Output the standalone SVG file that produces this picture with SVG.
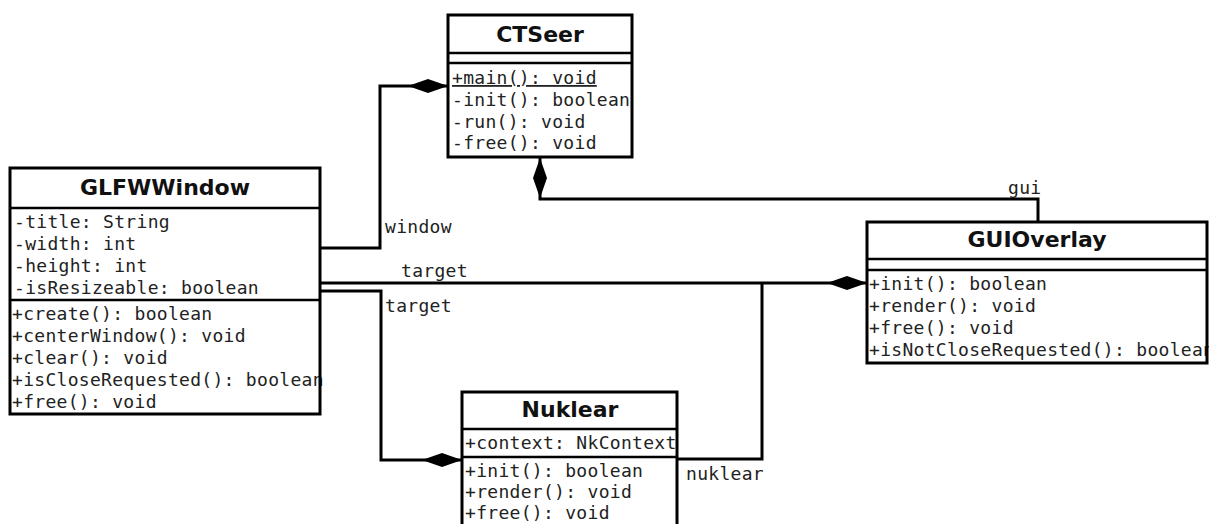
<svg xmlns="http://www.w3.org/2000/svg" width="1209" height="524" viewBox="0 0 1209 524">
  <style>
    .bg { fill: #fff; }
    .frame { fill: none; stroke: #000; stroke-width: 3; }
    .sep { stroke: #000; stroke-width: 2.5; fill: none; }
    .title { font-family: "DejaVu Sans", "Liberation Sans", sans-serif; font-weight: bold; font-size: 22px; text-anchor: middle; fill: #111; }
    .mem { font-family: "DejaVu Sans Mono", "Liberation Mono", monospace; font-size: 18px; letter-spacing: 0.3px; fill: #222; }
    .lbl { font-family: "DejaVu Sans Mono", "Liberation Mono", monospace; font-size: 18px; letter-spacing: 0.3px; fill: #222; }
    .edge { stroke: #000; stroke-width: 3; fill: none; }
  </style>
  <defs>
    <marker id="composition" viewBox="0 -8 42 16" markerWidth="42" markerHeight="16" refX="41" refY="0" orient="auto" markerUnits="userSpaceOnUse">
      <path d="M1,0 L21,-7 L41,0 L21,7 Z" fill="#000"/>
    </marker>
  </defs>

  <!-- associations -->
  <g id="connectors">
    <path class="edge" d="M320,248 H380 V86 H448" marker-end="url(#composition)"/>
    <path class="edge" d="M320,283 H867" stroke-width="2.5" marker-end="url(#composition)"/>
    <path class="edge" d="M320,291 H381 V460 H462" marker-end="url(#composition)"/>
    <path class="edge" d="M1038,222 V199 H540 V158" marker-end="url(#composition)"/>
    <path class="edge" d="M677,459 H762 V284"/>
    <text class="lbl" x="385" y="233">window</text>
    <text class="lbl" x="401" y="277">target</text>
    <text class="lbl" x="385" y="312">target</text>
    <text class="lbl" x="1008" y="194">gui</text>
    <text class="lbl" x="686" y="480">nuklear</text>
  </g>

  <!-- each class: background, members, then frame on top so long lines tuck under the border -->
  <g id="CTSeer">
    <rect class="bg" x="448" y="15" width="184" height="142"/>
    <text class="title" x="540" y="42">CTSeer</text>
    <text class="mem" x="452" y="84" text-decoration="underline">+main(): void</text>
    <text class="mem" x="452" y="106">-init(): boolean</text>
    <text class="mem" x="452" y="128">-run(): void</text>
    <text class="mem" x="452" y="149">-free(): void</text>
    <line class="sep" x1="448" y1="53" x2="632" y2="53"/>
    <line class="sep" x1="448" y1="63" x2="632" y2="63"/>
    <rect class="frame" x="448" y="15" width="184" height="142"/>
  </g>

  <g id="GLFWWindow">
    <rect class="bg" x="10" y="168" width="310" height="246"/>
    <text class="title" x="165" y="195">GLFWWindow</text>
    <text class="mem" x="14" y="228">-title: String</text>
    <text class="mem" x="14" y="250">-width: int</text>
    <text class="mem" x="14" y="272">-height: int</text>
    <text class="mem" x="14" y="294">-isResizeable: boolean</text>
    <text class="mem" x="12" y="320">+create(): boolean</text>
    <text class="mem" x="12" y="342">+centerWindow(): void</text>
    <text class="mem" x="12" y="364">+clear(): void</text>
    <text class="mem" x="12" y="386">+isCloseRequested(): boolean</text>
    <text class="mem" x="12" y="408">+free(): void</text>
    <line class="sep" x1="10" y1="208" x2="320" y2="208"/>
    <line class="sep" x1="10" y1="300" x2="320" y2="300"/>
    <rect class="frame" x="10" y="168" width="310" height="246"/>
  </g>

  <g id="GUIOverlay">
    <rect class="bg" x="867" y="222" width="340" height="141"/>
    <text class="title" x="1037" y="247">GUIOverlay</text>
    <text class="mem" x="869" y="290">+init(): boolean</text>
    <text class="mem" x="869" y="312">+render(): void</text>
    <text class="mem" x="869" y="334">+free(): void</text>
    <text class="mem" x="869" y="356">+isNotCloseRequested(): boolean</text>
    <line class="sep" x1="867" y1="259" x2="1207" y2="259"/>
    <line class="sep" x1="867" y1="270" x2="1207" y2="270"/>
    <rect class="frame" x="867" y="222" width="340" height="141"/>
  </g>

  <g id="Nuklear">
    <rect class="bg" x="462" y="392" width="215" height="140"/>
    <text class="title" x="570" y="417">Nuklear</text>
    <text class="mem" x="465" y="449">+context: NkContext</text>
    <text class="mem" x="465" y="477">+init(): boolean</text>
    <text class="mem" x="465" y="498">+render(): void</text>
    <text class="mem" x="465" y="519">+free(): void</text>
    <line class="sep" x1="462" y1="429" x2="677" y2="429"/>
    <line class="sep" x1="462" y1="457" x2="677" y2="457"/>
    <rect class="frame" x="462" y="392" width="215" height="140"/>
  </g>
</svg>
